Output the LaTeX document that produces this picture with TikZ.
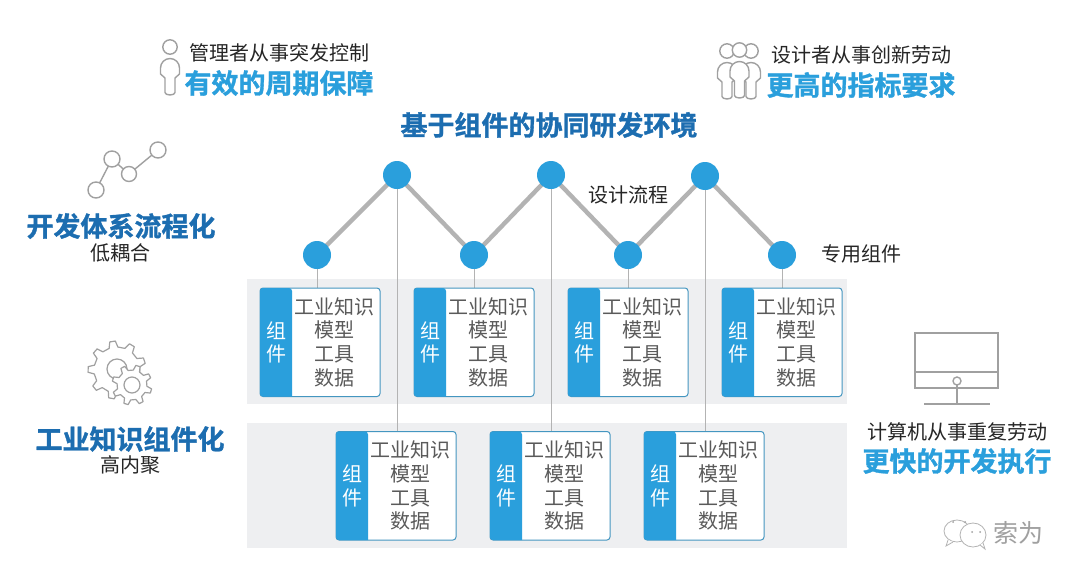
\documentclass[tikz,border=0pt]{standalone}
\usepackage{fontspec}
\usetikzlibrary{backgrounds}
\setmainfont{Noto Sans CJK SC}[BoldFont={Noto Sans CJK SC Bold},BoldFeatures={FakeBold=1.2}]
\definecolor{lblue}{HTML}{2A9FDC}
\definecolor{dblue}{HTML}{1C6DB0}
\definecolor{icon}{HTML}{A0A0A0}
\definecolor{band}{HTML}{EEEFF1}
\definecolor{cardtxt}{HTML}{5A5A5A}
\tikzset{
  bandbox/.style={fill=band,draw=none,minimum width=600pt,minimum height=125pt,inner sep=0,outer sep=0,anchor=north west},
  dot/.style={circle,fill=lblue,draw=none,minimum size=28pt,inner sep=0,outer sep=0},
  cardbox/.style={draw=lblue!70!gray,line width=1pt,fill=white,rounded corners=3pt,minimum width=120pt,minimum height=108.5pt,inner sep=0,outer sep=0,anchor=north west},
  cardtext/.style={text=cardtxt,font=\fontsize{20}{23.7}\selectfont,align=center,inner sep=0},
  cardside/.style={text=white,font=\fontsize{20}{23.7}\selectfont,align=center,inner sep=0},
  zig/.style={draw=icon!80!white,line width=4.4pt},
  stem/.style={draw=icon!80!white,line width=1pt},
  plain/.style={text=black!85,font=\fontsize{20}{24}\selectfont,inner sep=0},
  headl/.style={text=lblue,font=\fontsize{27}{30}\selectfont\bfseries,inner sep=0},
  headd/.style={text=dblue,font=\fontsize{27}{30}\selectfont\bfseries,inner sep=0},
  ic/.style={draw=icon,line width=1.4pt,fill=white},
  wm/.style={draw=icon!80!white,line width=.8pt,fill=white},
}
\newcommand{\cardat}[3]{%
  \node[cardbox] (#1) at (#2,#3) {};
  \fill[lblue,rounded corners=3pt] (#1.north west) -- ([xshift=32pt]#1.north west) {[sharp corners] -- ([xshift=32pt]#1.south west)} -- (#1.south west) -- cycle;
  \node[cardside] (#1s) at ([xshift=16pt]#1.west) {组\\件};
  \node[cardtext] (#1t) at ([xshift=14pt]#1.center) {工业知识\\模型\\工具\\数据};
}
\newcommand{\person}[2]{%
  \draw[ic] (#1,#2) circle (7.2);
  \draw[ic,line join=round] (#1-5,#2+45.5) arc (180:0:5 and 2.5) -- (#1+5,#2+31) -- (#1+9.5,#2+27) -- (#1+9.5,#2+21) arc (360:180:9.5) -- (#1-9.5,#2+27) -- (#1-5,#2+31) -- cycle;
}
\newcommand{\gearat}[6]{% x y rOut rIn teeth phase
  \draw[ic,line join=round,line width=1.2pt] ({#1+#4*cos(#6)},{#2+#4*sin(#6)})
   \foreach \k in {0,...,\numexpr#5-1\relax}{
     -- ({#1+#4*cos(#6+\k*360/#5)},{#2+#4*sin(#6+\k*360/#5)})
     -- ({#1+#3*cos(#6+\k*360/#5+50/#5)},{#2+#3*sin(#6+\k*360/#5+50/#5)})
     -- ({#1+#3*cos(#6+\k*360/#5+150/#5)},{#2+#3*sin(#6+\k*360/#5+150/#5)})
     -- ({#1+#4*cos(#6+\k*360/#5+200/#5)},{#2+#4*sin(#6+\k*360/#5+200/#5)})
   } -- cycle;
}
\begin{document}
\begin{tikzpicture}[x=1pt,y=-1pt]
\useasboundingbox (0,0) rectangle (1080,581);
% dots
\node[dot] (d1) at (317,255) {};
\node[dot] (d2) at (397,175) {};
\node[dot] (d3) at (474,255) {};
\node[dot] (d4) at (551,175) {};
\node[dot] (d5) at (628,255) {};
\node[dot] (d6) at (705,176) {};
\node[dot] (d7) at (782,255) {};
% cards
\cardat{c1}{260}{288}
\cardat{c3}{414}{288}
\cardat{c5}{568}{288}
\cardat{c7}{722}{288}
\cardat{c2}{336}{431.5}
\cardat{c4}{490}{431.5}
\cardat{c6}{644}{431.5}
\begin{scope}[on background layer]
\fill[white] (0,0) rectangle (1080,581);
\node[bandbox] (b1) at (247,279) {};
\node[bandbox] (b2) at (247,423) {};
\draw[stem] (d1.center) -- (d1 |- c1.north);
\draw[stem] (d3.center) -- (d3 |- c3.north);
\draw[stem] (d5.center) -- (d5 |- c5.north);
\draw[stem] (d7.center) -- (d7 |- c7.north);
\draw[stem] (d2.center) -- (d2 |- c2.north);
\draw[stem] (d4.center) -- (d4 |- c4.north);
\draw[stem] (d6.center) -- (d6 |- c6.north);
\draw[zig] (d1.center) -- (d2.center);
\draw[zig] (d2.center) -- (d3.center);
\draw[zig] (d3.center) -- (d4.center);
\draw[zig] (d4.center) -- (d5.center);
\draw[zig] (d5.center) -- (d6.center);
\draw[zig] (d6.center) -- (d7.center);
\end{scope}
% texts
\node[headd] (title) at (549,125) {基于组件的协同研发环境};
\node[plain] (t1) at (279,53) {管理者从事突发控制};
\node[headl] (t2) at (279,83) {有效的周期保障};
\node[plain] (t3) at (861,55) {设计者从事创新劳动};
\node[headl] (t4) at (861,85) {更高的指标要求};
\node[plain] (t5) at (628,195) {设计流程};
\node[plain] (t6) at (861,254) {专用组件};
\node[headd] (t7) at (121,226) {开发体系流程化};
\node[plain] (t8) at (120,253) {低耦合};
\node[headd] (t9) at (130,439) {工业知识组件化};
\node[plain] (t10) at (130,465) {高内聚};
\node[plain] (t11) at (957,432) {计算机从事重复劳动};
\node[headl] (t12) at (957,461) {更快的开发执行};
% person icon
\person{170}{47}
% team icon
\person{727}{51}
\person{751}{51}
\person{739.5}{50}
% network icon
\draw[ic] (96,190) -- (112,159) -- (129,174) -- (158,150);
\draw[ic] (96,190) circle (8);
\draw[ic] (112,159) circle (8);
\draw[ic] (129,174) circle (7.5);
\draw[ic] (158,150) circle (8);
% gears
\gearat{117}{370}{29}{23}{9}{10}
\draw[ic,line width=1.2pt] (117,369) circle (10);
\gearat{132}{385}{20}{15}{8}{5}
\draw[ic,line width=1.2pt] (132,385) circle (8);
% monitor
\draw[ic,fill=none,line width=1.6pt] (915,333) rectangle (998,388);
\draw[ic,line width=1.6pt] (915,372) -- (998,372);
\draw[ic,line width=1.6pt] (957,385) -- (957,404);
\draw[ic,line width=1.6pt] (924,404) -- (990,404);
\draw[ic,line width=1.4pt] (957,381) circle (4);
% watermark
\draw[wm] (957,531) ellipse (13 and 11);
\draw[wm] (948,540) -- (946,546) -- (953,542);
\draw[wm] (973,535) ellipse (13 and 12);
\draw[wm] (980,545) -- (985,549) -- (983,543);
\fill[icon] (953,522) circle (1) (965,522) circle (1) (972,532) circle (1) (980,532) circle (1);
\node[text=icon,inner sep=0,font=\fontsize{25}{27}\selectfont] (wm) at (1018,533) {索为};
\end{tikzpicture}
\end{document}
